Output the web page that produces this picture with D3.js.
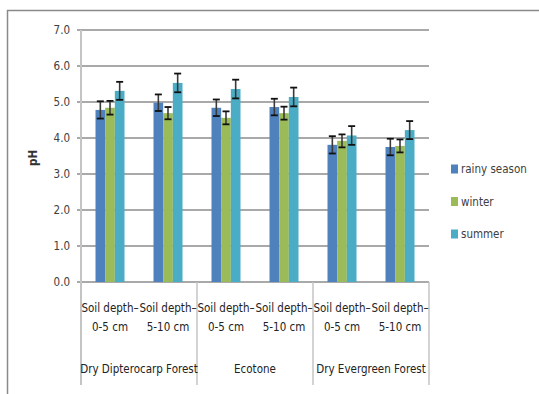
<!DOCTYPE html>
<html>
<head>
<meta charset="utf-8">
<script src="https://cdn.jsdelivr.net/npm/d3@7"></script>
<style>
  html, body { margin: 0; padding: 0; background: #fff; }
  svg { display: block; }
  text { font-family: "Liberation Sans Narrow", "DejaVu Sans Condensed", "Arial Narrow", sans-serif; }
</style>
</head>
<body>
<svg id="chart" width="539" height="394"></svg>
<script>
// Forest types and soil depths along the x axis
const forests = ["Dry Dipterocarp Forest", "Ecotone", "Dry Evergreen Forest"];
const depths = ["0-5 cm", "5-10 cm"];
const categories = ["DDF 0-5", "DDF 5-10", "ECO 0-5", "ECO 5-10", "DEF 0-5", "DEF 5-10"];

// Seasons (series)
const seasons = ["rainy season", "winter", "summer"];
const seasonColors = ["#4f81bd", "#9bbb59", "#4bacc6"];

// Mean soil pH per category, one array per season
const rainyValues  = [4.78, 4.98, 4.84, 4.86, 3.81, 3.75];
const winterValues = [4.84, 4.69, 4.56, 4.69, 3.92, 3.78];
const summerValues = [5.31, 5.53, 5.36, 5.14, 4.07, 4.22];

// Standard deviations shown as error bars
const rainyErrors  = [0.24, 0.23, 0.23, 0.23, 0.24, 0.23];
const winterErrors = [0.19, 0.17, 0.18, 0.18, 0.18, 0.18];
const summerErrors = [0.25, 0.26, 0.26, 0.26, 0.26, 0.25];

// Y axis ticks
const yTicks = [0, 1, 2, 3, 4, 5, 6, 7];

const seriesValues = [rainyValues, winterValues, summerValues];
const seriesErrors = [rainyErrors, winterErrors, summerErrors];

const svg = d3.select("#chart");

// Outer chart frame
svg.append("rect")
  .attr("x", 7.5).attr("y", 10.5)
  .attr("width", 560).attr("height", 420)
  .attr("fill", "none").attr("stroke", "#8a8a8a").attr("stroke-width", 1.5);

const plot = { left: 81, right: 429, top: 30, bottom: 282 };

const x0 = d3.scaleBand().domain(categories).range([plot.left, plot.right]).padding(0);
const x1 = d3.scaleBand().domain(seasons)
  .range([x0.bandwidth() * 0.25, x0.bandwidth() * 0.75]).padding(0);
const y = d3.scaleLinear().domain([0, 7]).range([plot.bottom, plot.top]);

// Horizontal gridlines with small outside ticks
svg.append("g").selectAll("line").data(yTicks).join("line")
  .attr("x1", plot.left - 4).attr("x2", plot.right)
  .attr("y1", d => y(d)).attr("y2", d => y(d))
  .attr("stroke", "#8c8c8c").attr("stroke-width", 1.3);

// Y tick labels
svg.append("g").selectAll("text").data(yTicks).join("text")
  .attr("x", plot.left - 11).attr("y", d => y(d))
  .attr("dy", "0.35em").attr("text-anchor", "end")
  .attr("font-size", 11.5).attr("fill", "#404040")
  .text(d => d3.format(".1f")(d));

// Y axis title
svg.append("text")
  .attr("transform", `translate(37,${(plot.top + plot.bottom) / 2 + 2}) rotate(-90)`)
  .attr("text-anchor", "middle").attr("font-size", 11.5).attr("font-weight", "bold")
  .attr("fill", "#333")
  .text("pH");

// Bars and error bars
const groups = svg.append("g").selectAll("g").data(categories).join("g")
  .attr("transform", d => `translate(${x0(d)},0)`);

seasons.forEach((s, si) => {
  groups.append("rect")
    .attr("x", x1(s))
    .attr("width", x1.bandwidth())
    .attr("y", (d, ci) => y(seriesValues[si][ci]))
    .attr("height", (d, ci) => y(0) - y(seriesValues[si][ci]))
    .attr("fill", seasonColors[si]);
});

seasons.forEach((s, si) => {
  const cx = x1(s) + x1.bandwidth() / 2;
  groups.append("line")
    .attr("x1", cx).attr("x2", cx)
    .attr("y1", (d, ci) => y(seriesValues[si][ci] + seriesErrors[si][ci]))
    .attr("y2", (d, ci) => y(seriesValues[si][ci] - seriesErrors[si][ci]))
    .attr("stroke", "#3a3a3a").attr("stroke-width", 1.6);
  [1, -1].forEach(sign => {
    groups.append("line")
      .attr("x1", cx - 3.5).attr("x2", cx + 3.5)
      .attr("y1", (d, ci) => y(seriesValues[si][ci] + sign * seriesErrors[si][ci]))
      .attr("y2", (d, ci) => y(seriesValues[si][ci] + sign * seriesErrors[si][ci]))
      .attr("stroke", "#111").attr("stroke-width", 1.8);
  });
});

// Vertical axis line and group separators below the plot
svg.append("line")
  .attr("x1", plot.left).attr("x2", plot.left)
  .attr("y1", plot.top).attr("y2", 385)
  .attr("stroke", "#c4c4c4").attr("stroke-width", 2);

const bandW = x0.bandwidth();
const sepXs = forests.map((f, i) => plot.left + (i + 1) * bandW * depths.length);
svg.append("g").selectAll("line").data(sepXs).join("line")
  .attr("x1", d => d).attr("x2", d => d)
  .attr("y1", plot.bottom).attr("y2", 385)
  .attr("stroke", "#c4c4c4").attr("stroke-width", 1.5);

// Category labels (soil depth)
const xLab = svg.append("g").selectAll("g").data(categories).join("g")
  .attr("transform", d => `translate(${x0(d) + bandW / 2},0)`);
xLab.append("text")
  .attr("y", 312).attr("text-anchor", "middle")
  .attr("font-size", 11.5).attr("fill", "#222")
  .text("Soil depth\u2013");
xLab.append("text")
  .attr("y", 331).attr("text-anchor", "middle")
  .attr("font-size", 11.5).attr("fill", "#222")
  .text((d, i) => depths[i % depths.length]);

// Forest type labels
svg.append("g").selectAll("text").data(forests).join("text")
  .attr("x", (d, i) => plot.left + (i + 0.5) * bandW * depths.length)
  .attr("y", 373).attr("text-anchor", "middle")
  .attr("font-size", 11.5).attr("fill", "#222")
  .text(d => d);

// Legend
const legend = svg.append("g").selectAll("g").data(seasons).join("g")
  .attr("transform", (d, i) => `translate(451,${169 + i * 32.5})`);
legend.append("rect")
  .attr("x", 0).attr("y", -4.5).attr("width", 7).attr("height", 9)
  .attr("fill", (d, i) => seasonColors[i]);
legend.append("text")
  .attr("x", 10).attr("dy", "0.35em")
  .attr("font-size", 11.5).attr("fill", "#404040")
  .text(d => d);
</script>
</body>
</html>
